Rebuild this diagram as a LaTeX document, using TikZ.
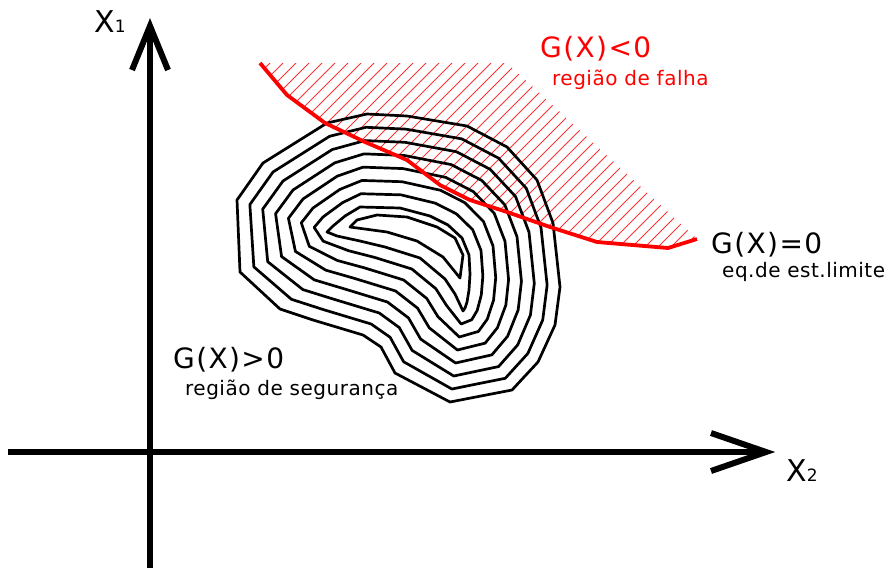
\documentclass[tikz,border=0pt]{standalone}
\usepackage{fontspec}
\setmainfont{DejaVu Sans}
\newfontfamily\bigfam[LetterSpace=5]{DejaVu Sans}
\newfontfamily\smallfam[LetterSpace=2.5]{DejaVu Sans}
\usetikzlibrary{calc}
\begin{document}
\begin{tikzpicture}[x=1pt,y=-1pt,
  axisline/.style={line width=5.6pt,black},
  arrowhead/.style={line width=6pt,black,line join=miter},
  contour/.style={line width=2.7pt,black,line join=round},
  limitline/.style={line width=3.8pt,red,line join=round},
  hatchline/.style={line width=0.9pt,red!80},
  big/.style={font=\bigfam\fontsize{28}{30}\selectfont,inner sep=0pt,anchor=base west},
  small/.style={font=\smallfam\fontsize{20}{22}\selectfont,inner sep=0pt,anchor=base west},
  axislabel/.style={font=\fontsize{30}{32}\selectfont,inner sep=0pt,anchor=base west}]
\useasboundingbox (0,0) rectangle (888,568);

% ---- limit state curve points
\coordinate (r1) at (260,63);
\coordinate (r2) at (287,95);
\coordinate (r3) at (325,123);
\coordinate (r4) at (365,142);
\coordinate (r5) at (407,160);
\coordinate (r6) at (440,185);
\coordinate (r7) at (470,200);
\coordinate (r8) at (507,212);
\coordinate (r9) at (550,227);
\coordinate (r10) at (597,242);
\coordinate (r11) at (668,248);
\coordinate (r12) at (697,239);
\coordinate (h1) at (507,63);

% ---- hatch (failure region)
\begin{scope}
  \clip (r1) -- (h1) -- (r12) -- (r11) -- (r10) -- (r9) -- (r8) -- (r7)
        -- (r6) -- (r5) -- (r4) -- (r3) -- (r2) -- cycle;
  \foreach \c in {320,333,...,950}{
    \draw[hatchline] (\c-320,320) -- (\c,0);
  }
\end{scope}

% ---- outer contour
\coordinate (O1) at (327,123);
\coordinate (O2) at (367,114);
\coordinate (O3) at (407,116);
\coordinate (O4) at (467,126);
\coordinate (O5) at (507,147);
\coordinate (O6) at (537,180);
\coordinate (O7) at (553,223);
\coordinate (O8) at (560,287);
\coordinate (O9) at (555,325);
\coordinate (O10) at (538,362);
\coordinate (O11) at (512,390);
\coordinate (O12) at (450,402);
\coordinate (O13) at (395,373);
\coordinate (O14) at (381,347);
\coordinate (O15) at (363,335);
\coordinate (O16) at (313,320);
\coordinate (O17) at (280,309);
\coordinate (O18) at (240,272);
\coordinate (O19) at (237,200);
\coordinate (O20) at (263,163);
% ---- second innermost contour
\coordinate (C1) at (345,216);
\coordinate (C2) at (360,207);
\coordinate (C3) at (400,208);
\coordinate (C4) at (430,216);
\coordinate (C5) at (448,225);
\coordinate (C6) at (462,238);
\coordinate (C7) at (469,255);
\coordinate (C8) at (470,274);
\coordinate (C9) at (469,290);
\coordinate (C10) at (467,302);
\coordinate (C11) at (465,308);
\coordinate (C12) at (463,311);
\coordinate (C13) at (455,294);
\coordinate (C14) at (445,279);
\coordinate (C15) at (420,258);
\coordinate (C16) at (385,247);
\coordinate (C17) at (360,241);
\coordinate (C18) at (337,236);
\coordinate (C19) at (327,232);
\coordinate (C20) at (333,226);

\foreach \k in {0,...,7}{
  \pgfmathsetmacro\t{\k/7}
  \draw[contour] ($(O1)!\t!(C1)$)
    \foreach \i in {2,...,20}{ -- ($(O\i)!\t!(C\i)$) } -- cycle;
}
% ---- innermost crescent
\draw[contour] (350,227) -- (357,220) -- (377,215) -- (407,217) -- (437,227)
  -- (455,238) -- (463,255) -- (460,278) -- (443,257) -- (417,241)
  -- (387,232) -- cycle;

% ---- limit state line
\draw[limitline] (r1) -- (r2) -- (r3) -- (r4) -- (r5) -- (r6) -- (r7)
  -- (r8) -- (r9) -- (r10) -- (r11) -- (r12);

% ---- axes
\draw[axisline] (150,568) -- (150,30);
\draw[arrowhead] (132,70) -- (150,26) -- (168,70);
\draw[axisline] (8,452) -- (764,452);
\draw[arrowhead] (711,433) -- (766,452) -- (711,471);

% ---- labels
\node[axislabel] (x1) at (94,32) {X{\fontsize{17}{18}\selectfont 1}};
\node[axislabel] (x2) at (786,481) {X{\fontsize{17}{18}\selectfont 2}};
\node[big,text=red] (gneg) at (540,57) {G(X)<0};
\node[small,text=red] (falha) at (552,85) {região de falha};
\node[big] (gzero) at (711,253) {G(X)=0};
\node[small] (limite) at (722,277) {eq.de est.limite};
\node[big] (gpos) at (173,368) {G(X)>0};
\node[small] (seg) at (185,395) {região de segurança};
\end{tikzpicture}
\end{document}
